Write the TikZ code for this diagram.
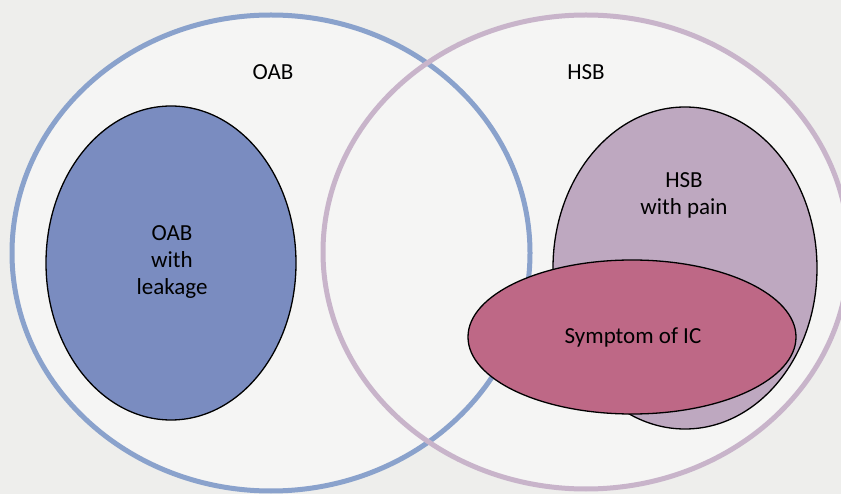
\documentclass[tikz,border=0pt]{standalone}
\usepackage{fontspec}
\setmainfont{Carlito}
\usetikzlibrary{shapes.geometric}
\definecolor{bgc}{RGB}{238,238,236}
\definecolor{oabline}{RGB}{138,162,204}
\definecolor{hsbline}{RGB}{200,180,202}
\definecolor{oabfill}{RGB}{122,140,192}
\definecolor{painfill}{RGB}{190,168,192}
\definecolor{icfill}{RGB}{190,104,134}
\definecolor{inner}{RGB}{245,245,244}
\tikzset{
  bigset/.style={ellipse, inner sep=0pt, line width=5pt},
  subset/.style={ellipse, inner sep=0pt, draw=black, line width=1.3pt, align=center},
  lbl/.style={inner sep=0pt, align=center}
}
\begin{document}
\begin{tikzpicture}[x=1pt,y=-1pt,font=\fontsize{23}{27}\selectfont]
\fill[bgc] (0,0) rectangle (841,494);
\useasboundingbox (0,0) rectangle (841,494);
\node[bigset, fill=inner, minimum width=518pt, minimum height=476pt] (oabf) at (271,253) {};
\node[bigset, fill=inner, minimum width=526pt, minimum height=474pt] (hsbf) at (586,252) {};
\node[bigset, draw=oabline, minimum width=518pt, minimum height=476pt] (oab) at (oabf.center) {};
\node[bigset, draw=hsbline, minimum width=526pt, minimum height=474pt] (hsb) at (hsbf.center) {};
\node[lbl] (oablbl) at (273,72) {OAB};
\node[lbl] (hsblbl) at (586,72) {HSB};
\node[subset, fill=oabfill, minimum width=250pt, minimum height=314pt] (leak) at (171,263) {};
\node[lbl] (leaktxt) at (172,262) {OAB\\with\\leakage};
\node[subset, fill=painfill, minimum width=264pt, minimum height=322pt] (pain) at (685,268) {};
\node[lbl] (paintxt) at (684,195) {HSB\\with pain};
\node[subset, fill=icfill, minimum width=328pt, minimum height=154pt] (ic) at (632,337) {};
\node[lbl] (ictxt) at (633,337) {Symptom of IC};
\end{tikzpicture}
\end{document}
